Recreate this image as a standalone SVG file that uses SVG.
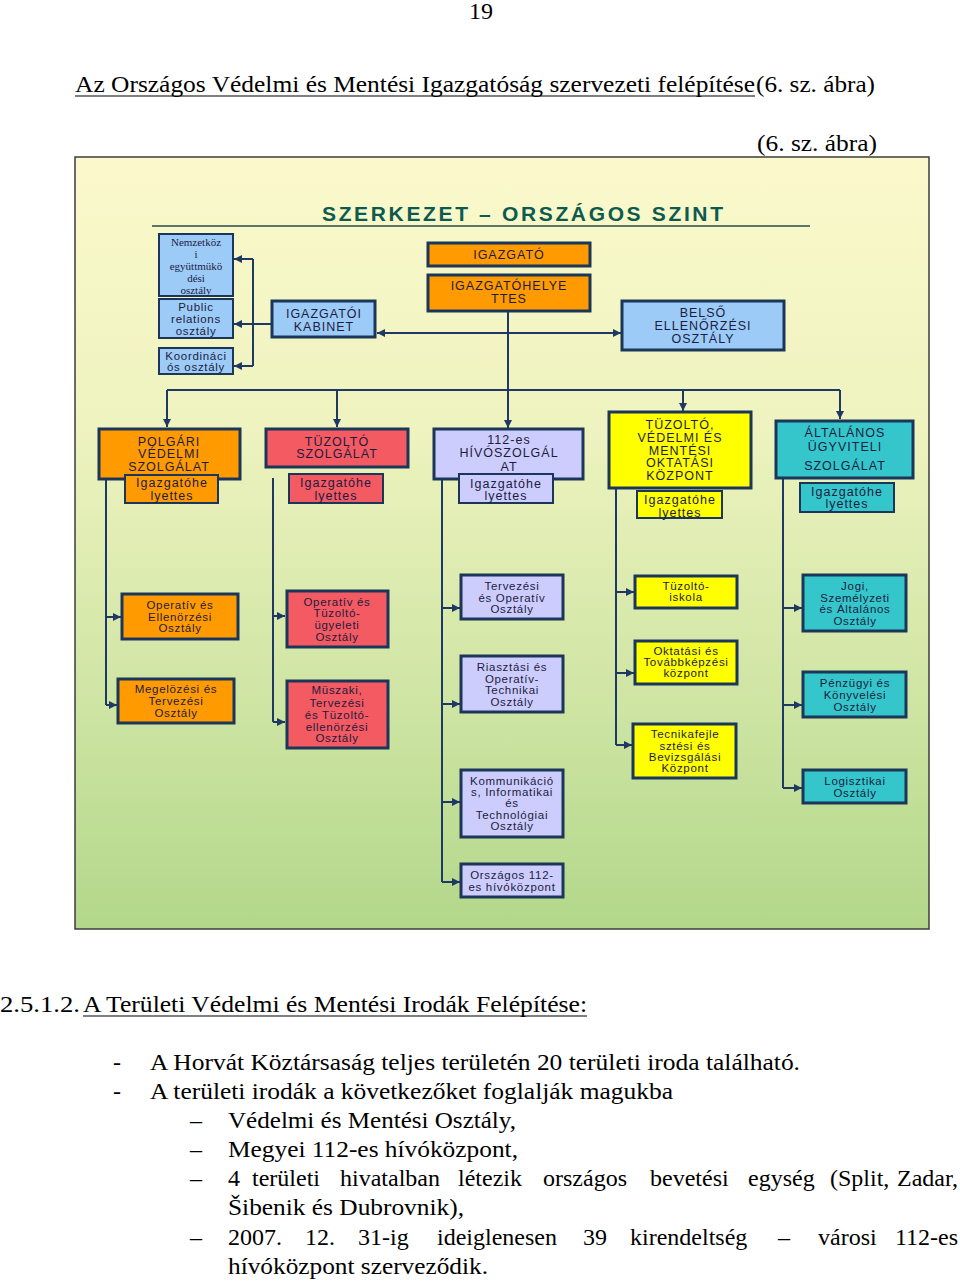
<svg xmlns="http://www.w3.org/2000/svg" width="960" height="1281" viewBox="0 0 960 1281">
<defs>
<linearGradient id="bg" x1="0" y1="0" x2="0" y2="1">
<stop offset="0" stop-color="#fbf9cc"/>
<stop offset="0.35" stop-color="#eef3bf"/>
<stop offset="0.7" stop-color="#cfe5a4"/>
<stop offset="1" stop-color="#b2d78a"/>
</linearGradient>
<marker id="ah" viewBox="0 0 10 10" refX="10" refY="5" markerWidth="9" markerHeight="8" markerUnits="userSpaceOnUse" orient="auto-start-reverse">
<path d="M0,0 L10,5 L0,10 z" fill="#1f3864"/>
</marker>
<style>
.doc{font-family:"Liberation Serif","Times New Roman",serif;font-size:24px;fill:#000}
.ul{stroke:#000;stroke-width:1.2}
.c{fill:none;stroke:#1f3864;stroke-width:2}
.a{fill:none;stroke:#1f3864;stroke-width:2;marker-end:url(#ah)}
.b{stroke:#1b3658;stroke-width:3}
.bs{stroke:#1b3658;stroke-width:2}
.lb{fill:#9dcbf8}
.or{fill:#ff9a00}
.rd{fill:#f35a62}
.lv{fill:#cdcdfd}
.ye{fill:#ffff00}
.tl{fill:#34c6cb}
.t{font-family:"Liberation Sans",Arial,sans-serif;font-size:11.5px;fill:#1c1c40;text-anchor:middle;letter-spacing:0.7px}
.t2{font-family:"Liberation Sans",Arial,sans-serif;font-size:12.5px;fill:#1c1c40;text-anchor:middle;letter-spacing:1px}
.ts{font-family:"Liberation Serif","Times New Roman",serif;font-size:11px;fill:#1c1c40;text-anchor:middle}
.hd{font-family:"Liberation Sans",Arial,sans-serif;font-size:21px;font-weight:bold;fill:#0c5a50}
</style>
</defs>

<rect width="960" height="1281" fill="#ffffff"/>

<!-- page text -->
<g id="page-text">
<text class="doc" x="481" y="19" text-anchor="middle" font-size="21">19</text>
<text class="doc" x="75" y="92" textLength="680" lengthAdjust="spacingAndGlyphs">Az Országos Védelmi és Mentési Igazgatóság szervezeti felépítése</text>
<line class="ul" x1="75" y1="96" x2="755" y2="96"/>
<text class="doc" x="756" y="92" textLength="119" lengthAdjust="spacingAndGlyphs">(6. sz. ábra)</text>
<text class="doc" x="757" y="151" textLength="120" lengthAdjust="spacingAndGlyphs">(6. sz. ábra)</text>
</g>

<!-- frame -->
<rect id="frame" x="75" y="157" width="854" height="772" fill="url(#bg)" stroke="#3c3c3c" stroke-width="1.5"/>

<g id="header">
<text class="hd" x="322" y="221" textLength="401" lengthAdjust="spacing">SZERKEZET – ORSZÁGOS SZINT</text>
<line x1="152" y1="226" x2="810" y2="226" stroke="#2a4a4a" stroke-width="1.5"/>
</g>

<!-- connectors -->
<g id="connectors">
<path class="a" d="M272,324 H234"/>
<path class="c" d="M253,259 V366"/>
<path class="a" d="M253,259 H234"/>
<path class="a" d="M253,366 H234"/>
<path class="a" d="M377,333 H621" marker-start="url(#ah)"/>
<path class="a" d="M508,311 V428"/>
<path class="c" d="M167,390 H840"/>
<path class="a" d="M167,390 V427"/>
<path class="a" d="M337,390 V427"/>
<path class="a" d="M683,390 V411"/>
<path class="a" d="M840,390 V419"/>
<path class="c" d="M106,479 V705"/>
<path class="a" d="M106,617 H121"/>
<path class="a" d="M106,705 H117"/>
<path class="c" d="M273,478 V722"/>
<path class="a" d="M273,616 H285"/>
<path class="a" d="M273,722 H285"/>
<path class="c" d="M442,479 V882"/>
<path class="a" d="M442,608 H460"/>
<path class="a" d="M442,704 H460"/>
<path class="a" d="M442,802 H460"/>
<path class="a" d="M442,882 H460"/>
<path class="c" d="M616,488 V745"/>
<path class="a" d="M616,592 H634"/>
<path class="a" d="M616,673 H634"/>
<path class="a" d="M616,745 H632"/>
<path class="c" d="M783,478 V788"/>
<path class="a" d="M783,608 H802"/>
<path class="a" d="M783,705 H802"/>
<path class="a" d="M783,788 H802"/>
</g>

<!-- top level nodes -->
<g id="n-nemzetkozi">
<rect class="lb bs" x="159" y="234" width="74" height="62"/>
<text class="ts" x="196" y="246">Nemzetköz</text>
<text class="ts" x="196" y="258">i</text>
<text class="ts" x="196" y="270">együttmükö</text>
<text class="ts" x="196" y="282">dési</text>
<text class="ts" x="196" y="294">osztály</text>
</g>
<g id="n-public">
<rect class="lb bs" x="159" y="299" width="74" height="39"/>
<text class="t" x="196" y="311" letter-spacing="0.2">Public</text>
<text class="t" x="196" y="323" letter-spacing="0.2">relations</text>
<text class="t" x="196" y="335" letter-spacing="0.2">osztály</text>
</g>
<g id="n-koord">
<rect class="lb bs" x="159" y="348" width="74" height="26"/>
<text class="t" x="196" y="360" letter-spacing="0.2">Koordináci</text>
<text class="t" x="196" y="371" letter-spacing="0.2">ós osztály</text>
</g>
<g id="n-kabinet">
<rect class="lb b" x="272" y="301" width="103" height="36"/>
<text class="t2" x="324" y="318">IGAZGATÓI</text>
<text class="t2" x="324" y="331">KABINET</text>
</g>
<g id="n-igazgato">
<rect class="or b" x="428" y="243" width="162" height="23"/>
<text class="t2" x="509" y="259">IGAZGATÓ</text>
</g>
<g id="n-helyettes">
<rect class="or b" x="428" y="275" width="162" height="36"/>
<text class="t2" x="509" y="290">IGAZGATÓHELYE</text>
<text class="t2" x="509" y="303">TTES</text>
</g>
<g id="n-belso">
<rect class="lb b" x="622" y="301" width="162" height="49"/>
<text class="t2" x="703" y="317">BELSŐ</text>
<text class="t2" x="703" y="330">ELLENŐRZÉSI</text>
<text class="t2" x="703" y="343">OSZTÁLY</text>
</g>

<!-- level 2 -->
<g id="n-polgari">
<rect class="or b" x="99" y="429" width="141" height="50"/>
<text class="t2" x="169" y="446">POLGÁRI</text>
<text class="t2" x="169" y="458">VÉDELMI</text>
<text class="t2" x="169" y="471">SZOLGÁLAT</text>
<rect class="or bs" x="125" y="475" width="93" height="28"/>
<text class="t2" x="172" y="487">Igazgatóhe</text>
<text class="t2" x="172" y="500">lyettes</text>
</g>
<g id="n-tuzolto">
<rect class="rd b" x="266" y="429" width="142" height="38"/>
<text class="t2" x="337" y="446">TÜZOLTÓ</text>
<text class="t2" x="337" y="458">SZOLGÁLAT</text>
<rect class="rd bs" x="289" y="474" width="94" height="29"/>
<text class="t2" x="336" y="487">Igazgatóhe</text>
<text class="t2" x="336" y="500">lyettes</text>
</g>
<g id="n-112">
<rect class="lv b" x="434" y="429" width="149" height="50"/>
<text class="t2" x="509" y="444">112-es</text>
<text class="t2" x="509" y="457">HÍVÓSZOLGÁL</text>
<text class="t2" x="509" y="471">AT</text>
<rect class="lv bs" x="459" y="474" width="94" height="29"/>
<text class="t2" x="506" y="488">Igazgatóhe</text>
<text class="t2" x="506" y="500">lyettes</text>
</g>
<g id="n-tvmok">
<rect class="ye b" x="609" y="412" width="142" height="76"/>
<text class="t2" x="680" y="429">TÜZOLTÓ,</text>
<text class="t2" x="680" y="442">VÉDELMI ÉS</text>
<text class="t2" x="680" y="455">MENTÉSI</text>
<text class="t2" x="680" y="467">OKTATÁSI</text>
<text class="t2" x="680" y="480">KÖZPONT</text>
<rect class="ye bs" x="637" y="491" width="85" height="27"/>
<text class="t2" x="680" y="504">Igazgatóhe</text>
<text class="t2" x="680" y="517">lyettes</text>
</g>
<g id="n-altalanos">
<rect class="tl b" x="776" y="421" width="137" height="57"/>
<text class="t2" x="845" y="437">ÁLTALÁNOS</text>
<text class="t2" x="845" y="451">ÜGYVITELI</text>
<text class="t2" x="845" y="470">SZOLGÁLAT</text>
<rect class="tl bs" x="800" y="483" width="94" height="29"/>
<text class="t2" x="847" y="496">Igazgatóhe</text>
<text class="t2" x="847" y="508">lyettes</text>
</g>

<!-- level 3 -->
<g id="n-opell">
<rect class="or b" x="122" y="594" width="116" height="45"/>
<text class="t" x="180" y="609">Operatív és</text>
<text class="t" x="180" y="621">Ellenörzési</text>
<text class="t" x="180" y="632">Osztály</text>
</g>
<g id="n-megelozesi">
<rect class="or b" x="118" y="679" width="116" height="44"/>
<text class="t" x="176" y="693">Megelözési és</text>
<text class="t" x="176" y="705">Tervezési</text>
<text class="t" x="176" y="717">Osztály</text>
</g>
<g id="n-opugy">
<rect class="rd b" x="287" y="591" width="101" height="56"/>
<text class="t" x="337" y="606">Operatív és</text>
<text class="t" x="337" y="617">Tüzoltó-</text>
<text class="t" x="337" y="629">ügyeleti</text>
<text class="t" x="337" y="641">Osztály</text>
</g>
<g id="n-muszaki">
<rect class="rd b" x="287" y="681" width="101" height="67"/>
<text class="t" x="337" y="694">Müszaki,</text>
<text class="t" x="337" y="707">Tervezési</text>
<text class="t" x="337" y="719">és Tüzoltó-</text>
<text class="t" x="337" y="731">ellenörzési</text>
<text class="t" x="337" y="742">Osztály</text>
</g>
<g id="n-tervop">
<rect class="lv b" x="461" y="575" width="102" height="44"/>
<text class="t" x="512" y="590">Tervezési</text>
<text class="t" x="512" y="602">és Operatív</text>
<text class="t" x="512" y="613">Osztály</text>
</g>
<g id="n-riaszt">
<rect class="lv b" x="461" y="656" width="102" height="56"/>
<text class="t" x="512" y="671">Riasztási és</text>
<text class="t" x="512" y="683">Operatív-</text>
<text class="t" x="512" y="694">Technikai</text>
<text class="t" x="512" y="706">Osztály</text>
</g>
<g id="n-komm">
<rect class="lv b" x="461" y="770" width="102" height="67"/>
<text class="t" x="512" y="785">Kommunikáció</text>
<text class="t" x="512" y="796">s, Informatikai</text>
<text class="t" x="512" y="807">és</text>
<text class="t" x="512" y="819">Technológiai</text>
<text class="t" x="512" y="830">Osztály</text>
</g>
<g id="n-orszagos112">
<rect class="lv b" x="461" y="864" width="102" height="33"/>
<text class="t" x="512" y="879">Országos 112-</text>
<text class="t" x="512" y="891">es hívóközpont</text>
</g>
<g id="n-iskola">
<rect class="ye b" x="635" y="576" width="102" height="32"/>
<text class="t" x="686" y="590">Tüzoltó-</text>
<text class="t" x="686" y="601">iskola</text>
</g>
<g id="n-oktatasi">
<rect class="ye b" x="635" y="641" width="102" height="43"/>
<text class="t" x="686" y="655">Oktatási és</text>
<text class="t" x="686" y="666">Továbbképzési</text>
<text class="t" x="686" y="677">központ</text>
</g>
<g id="n-tecnika">
<rect class="ye b" x="633" y="724" width="103" height="54"/>
<text class="t" x="685" y="738">Tecnikafejle</text>
<text class="t" x="685" y="750">sztési és</text>
<text class="t" x="685" y="761">Bevizsgálási</text>
<text class="t" x="685" y="772">Központ</text>
</g>
<g id="n-jogi">
<rect class="tl b" x="803" y="575" width="103" height="56"/>
<text class="t" x="855" y="590">Jogi,</text>
<text class="t" x="855" y="602">Személyzeti</text>
<text class="t" x="855" y="613">és Általános</text>
<text class="t" x="855" y="625">Osztály</text>
</g>
<g id="n-penzugyi">
<rect class="tl b" x="803" y="672" width="103" height="45"/>
<text class="t" x="855" y="687">Pénzügyi és</text>
<text class="t" x="855" y="699">Könyvelési</text>
<text class="t" x="855" y="711">Osztály</text>
</g>
<g id="n-logisztikai">
<rect class="tl b" x="803" y="770" width="103" height="33"/>
<text class="t" x="855" y="785">Logisztikai</text>
<text class="t" x="855" y="797">Osztály</text>
</g>

<!-- bottom text -->
<g id="bottom-text">
<text class="doc" x="0" y="1012" textLength="80" lengthAdjust="spacingAndGlyphs">2.5.1.2.</text>
<text class="doc" x="83" y="1012" textLength="504" lengthAdjust="spacingAndGlyphs">A Területi Védelmi és Mentési Irodák Felépítése:</text>
<line class="ul" x1="83" y1="1016" x2="587" y2="1016"/>
<text class="doc" x="113" y="1070">-</text>
<text class="doc" x="150" y="1070" textLength="650" lengthAdjust="spacingAndGlyphs">A Horvát Köztársaság teljes területén 20 területi iroda található.</text>
<text class="doc" x="113" y="1099">-</text>
<text class="doc" x="150" y="1099" textLength="523" lengthAdjust="spacingAndGlyphs">A területi irodák a következőket foglalják magukba</text>
<text class="doc" x="190" y="1128">–</text>
<text class="doc" x="228" y="1128" textLength="288" lengthAdjust="spacingAndGlyphs">Védelmi és Mentési Osztály,</text>
<text class="doc" x="190" y="1157">–</text>
<text class="doc" x="228" y="1157" textLength="290" lengthAdjust="spacingAndGlyphs">Megyei 112-es hívóközpont,</text>
<text class="doc" x="190" y="1186">–</text>
<text class="doc" y="1186" font-size="23"><tspan x="228">4</tspan><tspan x="252">területi</tspan><tspan x="340">hivatalban</tspan><tspan x="458">létezik</tspan><tspan x="543">országos</tspan><tspan x="650">bevetési</tspan><tspan x="748">egység</tspan><tspan x="830">(Split,</tspan></text>
<text class="doc" x="958" y="1186" font-size="23" text-anchor="end">Zadar,</text>
<text class="doc" x="228" y="1215" textLength="236" lengthAdjust="spacingAndGlyphs">Šibenik és Dubrovnik),</text>
<text class="doc" x="190" y="1245">–</text>
<text class="doc" y="1245" font-size="23"><tspan x="228">2007.</tspan><tspan x="305">12.</tspan><tspan x="358">31-ig</tspan><tspan x="437">ideiglenesen</tspan><tspan x="583">39</tspan><tspan x="630">kirendeltség</tspan><tspan x="778">–</tspan><tspan x="818">városi</tspan></text>
<text class="doc" x="958" y="1245" font-size="23" text-anchor="end">112-es</text>
<text class="doc" x="228" y="1274" textLength="260" lengthAdjust="spacingAndGlyphs">hívóközpont szerveződik.</text>
</g>
</svg>
